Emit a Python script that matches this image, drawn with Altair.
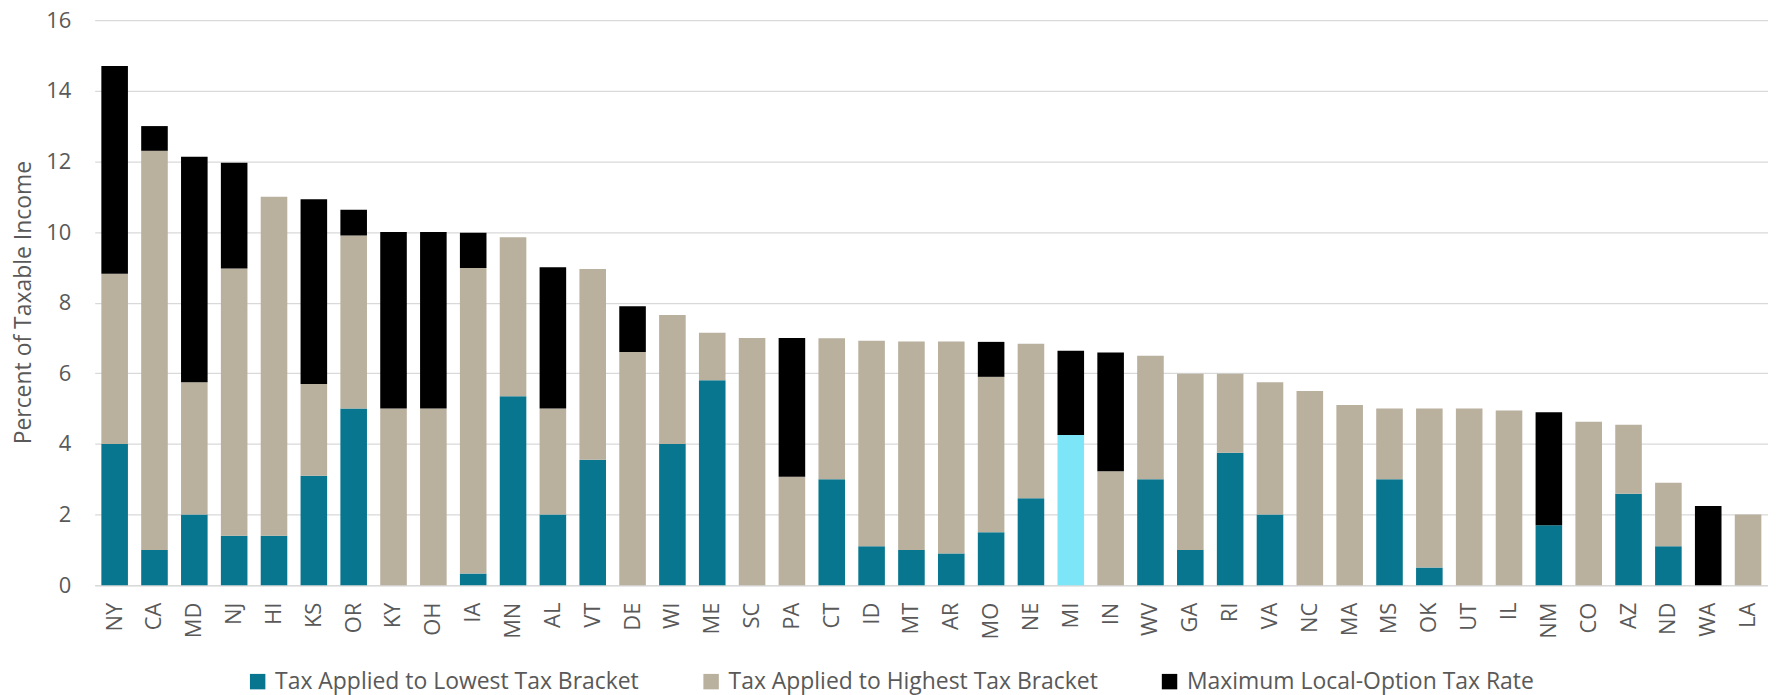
import altair as alt
import pandas as pd

LOW = "Tax Applied to Lowest Tax Bracket"
HIGH = "Tax Applied to Highest Tax Bracket"
LOC = "Maximum Local-Option Tax Rate"
MIH = "Michigan"

states = ["NY", "CA", "MD", "NJ", "HI", "KS", "OR", "KY", "OH", "IA", "MN", "AL", "VT", "DE",
          "WI", "ME", "SC", "PA", "CT", "ID", "MT", "AR", "MO", "NE", "MI", "IN", "WV", "GA",
          "RI", "VA", "NC", "MA", "MS", "OK", "UT", "IL", "NM", "CO", "AZ", "ND", "WA", "LA"]

# rate applied to the lowest bracket
lowest = [4.0, 1.0, 2.0, 1.4, 1.4, 3.1, 5.0, 0, 0, 0.33, 5.35, 2.0, 3.55, 0,
          4.0, 5.8, 0, 0, 3.0, 1.1, 1.0, 0.9, 1.5, 2.46, 4.25, 0, 3.0, 1.0,
          3.75, 2.0, 0, 0, 3.0, 0.5, 0, 0, 1.7, 0, 2.59, 1.1, 0, 0]

# rate applied to the highest bracket (top of the beige segment)
highest = [8.82, 12.3, 5.75, 8.97, 11.0, 5.7, 9.9, 5.0, 5.0, 8.98, 9.85, 5.0, 8.95, 6.6,
           7.65, 7.15, 7.0, 3.07, 6.99, 6.925, 6.9, 6.9, 5.9, 6.84, 4.25, 3.23, 6.5, 5.99,
           5.99, 5.75, 5.5, 5.1, 5.0, 5.0, 5.0, 4.95, 1.7, 4.63, 4.54, 2.9, 0, 2.0]

# total including the maximum local-option rate
combined = [14.7, 13.0, 12.13, 11.96, 11.0, 10.93, 10.63, 10.0, 10.0, 9.98, 9.85, 9.0, 8.95, 7.9,
            7.65, 7.15, 7.0, 7.0, 6.99, 6.925, 6.9, 6.9, 6.89, 6.84, 6.64, 6.59, 6.5, 5.99,
            5.99, 5.75, 5.5, 5.1, 5.0, 5.0, 5.0, 4.95, 4.9, 4.63, 4.54, 2.9, 2.24, 2.0]

rows = []
for s, lo, hi, tot in zip(states, lowest, highest, combined):
    if lo > 0:
        rows.append({"state": s, "series": MIH if s == "MI" else LOW, "value": lo, "ord": 0})
    if hi - lo > 0.001:
        rows.append({"state": s, "series": HIGH, "value": round(hi - lo, 3), "ord": 1})
    if tot - hi > 0.001:
        rows.append({"state": s, "series": LOC, "value": round(tot - hi, 3), "ord": 2})
df = pd.DataFrame(rows)

FONT = "Open Sans"
GREY = "#595959"

chart = alt.Chart(df).mark_bar().encode(
    x=alt.X("state:N", sort=states, title=None,
            scale=alt.Scale(paddingInner=0.333, paddingOuter=0.167),
            axis=alt.Axis(labelAngle=-90, labelFontSize=22, labelColor=GREY, labelFont=FONT,
                          ticks=False, domainColor="#D9D9D9", domainWidth=1.5,
                          labelPadding=17, grid=False)),
    y=alt.Y("value:Q", stack="zero", title="Percent of Taxable Income",
            scale=alt.Scale(domain=[0, 16], nice=False),
            axis=alt.Axis(values=[0, 2, 4, 6, 8, 10, 12, 14, 16], grid=True, gridColor="#D9D9D9",
                          gridWidth=1.3, domain=False, ticks=False, labelPadding=24,
                          labelFontSize=22, labelColor=GREY, labelFont=FONT,
                          titleFont=FONT, titleFontSize=23, titleColor=GREY, titleFontWeight="normal",
                          titleX=-71, titleY=283, titleAngle=-90, titleAlign="center",
                          titleBaseline="middle")),
    color=alt.Color("series:N",
                    scale=alt.Scale(domain=[LOW, HIGH, LOC, MIH],
                                    range=["#08768F", "#B9B09E", "#000000", "#7DE5F8"]),
                    legend=alt.Legend(values=[LOW, HIGH, LOC], title=None, orient="none",
                                      legendX=152, legendY=652, direction="horizontal", columns=3,
                                      symbolType="square", symbolSize=240, symbolStrokeWidth=0,
                                      labelFont=FONT, labelFontSize=23, labelColor=GREY,
                                      labelLimit=600, labelOffset=6, columnPadding=60)),
    order=alt.Order("ord:Q"),
).properties(
    width=1679, height=567,
    padding={"left": 87, "top": 11, "right": 0, "bottom": 109},
    autosize=alt.AutoSizeParams(type="none"),
).configure_view(stroke=None)

chart.save("out.html", embed_options={"renderer": "svg", "actions": False})
